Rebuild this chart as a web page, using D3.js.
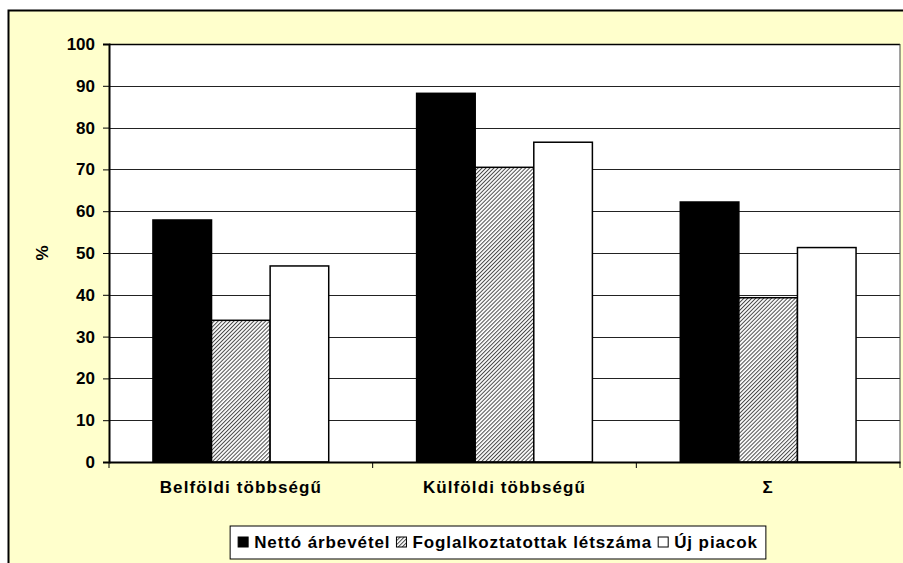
<!DOCTYPE html>
<html>
<head>
<meta charset="utf-8">
<script src="https://cdn.jsdelivr.net/npm/d3@7"></script>
<style>
  body { margin: 0; background: #fff; }
  text { font-family: Arial, "Liberation Sans", sans-serif; font-weight: bold; fill: #000; }
</style>
</head>
<body>
<svg id="chart" width="903" height="563"></svg>
<script>
// data
const categories = ['Belföldi többségű', 'Külföldi többségű', 'Σ'];
const seriesNames = ['Nettó árbevétel', 'Foglalkoztatottak létszáma', 'Új piacok'];
const netto = [57.9, 88.2, 62.2];
const foglalkoztatottak = [33.9, 70.5, 39.3];
const ujPiacok = [46.9, 76.5, 51.3];
const yTicks = [0, 10, 20, 30, 40, 50, 60, 70, 80, 90, 100];

const seriesValues = [netto, foglalkoztatottak, ujPiacok];
const fills = ['#000', 'url(#hatch)', '#fff'];

const svg = d3.select('#chart');

const defs = svg.append('defs');
const pat = defs.append('pattern')
  .attr('id', 'hatch')
  .attr('patternUnits', 'userSpaceOnUse')
  .attr('width', 2.8).attr('height', 2.8)
  .attr('patternTransform', 'rotate(45)');
pat.append('rect').attr('width', 2.8).attr('height', 2.8).attr('fill', '#fff');
pat.append('rect').attr('width', 1).attr('height', 2.8).attr('fill', '#4a4a4a');

// chart area background + frame
svg.append('rect')
  .attr('x', 8.5).attr('y', 10.5)
  .attr('width', 930).attr('height', 600)
  .attr('fill', '#ffffcc')
  .attr('stroke', '#000').attr('stroke-width', 2);

const plot = { left: 109, right: 900, top: 44, bottom: 462 };

const x = d3.scaleBand()
  .domain(categories)
  .range([plot.left, plot.right])
  .paddingInner(0)
  .paddingOuter(0);

const xInner = d3.scaleBand()
  .domain(d3.range(seriesNames.length))
  .range([0, x.bandwidth()])
  .paddingOuter(0.75)
  .paddingInner(0);

const y = d3.scaleLinear().domain([0, 100]).range([plot.bottom, plot.top]);

svg.append('rect')
  .attr('x', plot.left).attr('y', plot.top)
  .attr('width', plot.right - plot.left).attr('height', plot.bottom - plot.top)
  .attr('fill', '#fff');

// gridlines
svg.append('g')
  .selectAll('line')
  .data(yTicks.filter(d => d > 0))
  .join('line')
  .attr('x1', plot.left).attr('x2', plot.right)
  .attr('y1', d => Math.round(y(d)) + 0.5).attr('y2', d => Math.round(y(d)) + 0.5)
  .attr('stroke', d => d === 100 ? '#000' : '#222')
  .attr('stroke-width', d => d === 100 ? 1.5 : 1);

// right border of plot
svg.append('line')
  .attr('x1', plot.right).attr('x2', plot.right)
  .attr('y1', plot.top).attr('y2', plot.bottom)
  .attr('stroke', '#444').attr('stroke-width', 1);

// bars
const groups = svg.append('g')
  .selectAll('g')
  .data(seriesValues)
  .join('g');

groups.selectAll('rect')
  .data((vals, si) => vals.map((v, ci) => ({ v, ci, si })))
  .join('rect')
  .attr('x', d => x(categories[d.ci]) + xInner(d.si))
  .attr('width', xInner.bandwidth())
  .attr('y', d => y(d.v))
  .attr('height', d => y(0) - y(d.v))
  .attr('fill', d => fills[d.si])
  .attr('stroke', '#000')
  .attr('stroke-width', 1.5);

// y axis
const yAxis = svg.append('g')
  .attr('transform', `translate(${plot.left},0)`)
  .call(d3.axisLeft(y).tickValues(yTicks).tickSize(6).tickPadding(8));
yAxis.select('.domain').attr('stroke', '#000').attr('stroke-width', 2);
yAxis.selectAll('.tick line').attr('stroke', '#000');
yAxis.selectAll('text')
  .attr('font-size', 17)
  .style('font-family', 'Arial, "Liberation Sans", sans-serif')
  .style('font-weight', 'bold');

// x axis
const xAxis = svg.append('g')
  .attr('transform', `translate(0,${plot.bottom})`)
  .call(d3.axisBottom(x).tickSize(0).tickPadding(19));
xAxis.select('.domain').attr('stroke', '#000').attr('stroke-width', 2);
xAxis.selectAll('text')
  .attr('font-size', 17)
  .attr('letter-spacing', 1.1)
  .style('font-family', 'Arial, "Liberation Sans", sans-serif')
  .style('font-weight', 'bold');

// category boundary ticks
svg.append('g')
  .selectAll('line')
  .data(categories.concat(['end']))
  .join('line')
  .attr('x1', (d, i) => i < categories.length ? x(d) : plot.right)
  .attr('x2', (d, i) => i < categories.length ? x(d) : plot.right)
  .attr('y1', plot.bottom).attr('y2', plot.bottom + 6)
  .attr('stroke', '#000');

// y title
svg.append('text')
  .attr('transform', `translate(48,${(plot.top + plot.bottom) / 2}) rotate(-90)`)
  .attr('text-anchor', 'middle')
  .attr('font-size', 17)
  .text('%');

// legend
const legend = svg.append('g');
const legendBox = legend.append('rect')
  .attr('fill', '#fff')
  .attr('stroke', '#000')
  .attr('stroke-width', 1);

let cx = 0;
const items = legend.append('g');
seriesNames.forEach((name, i) => {
  items.append('rect')
    .attr('x', cx).attr('y', -11)
    .attr('width', 10).attr('height', 10)
    .attr('fill', fills[i])
    .attr('stroke', '#000');
  const t = items.append('text')
    .attr('x', cx + 16).attr('y', 0)
    .attr('font-size', 17)
    .attr('letter-spacing', 0.9)
    .text(name);
  cx += 16 + t.node().getComputedTextLength() + 6;
});
const totalW = cx - 6;
const boxW = totalW + 16;
const boxX = 498 - boxW / 2;
legendBox.attr('x', boxX).attr('y', 526).attr('width', boxW).attr('height', 33);
items.attr('transform', `translate(${boxX + 8},548)`);
</script>
</body>
</html>
